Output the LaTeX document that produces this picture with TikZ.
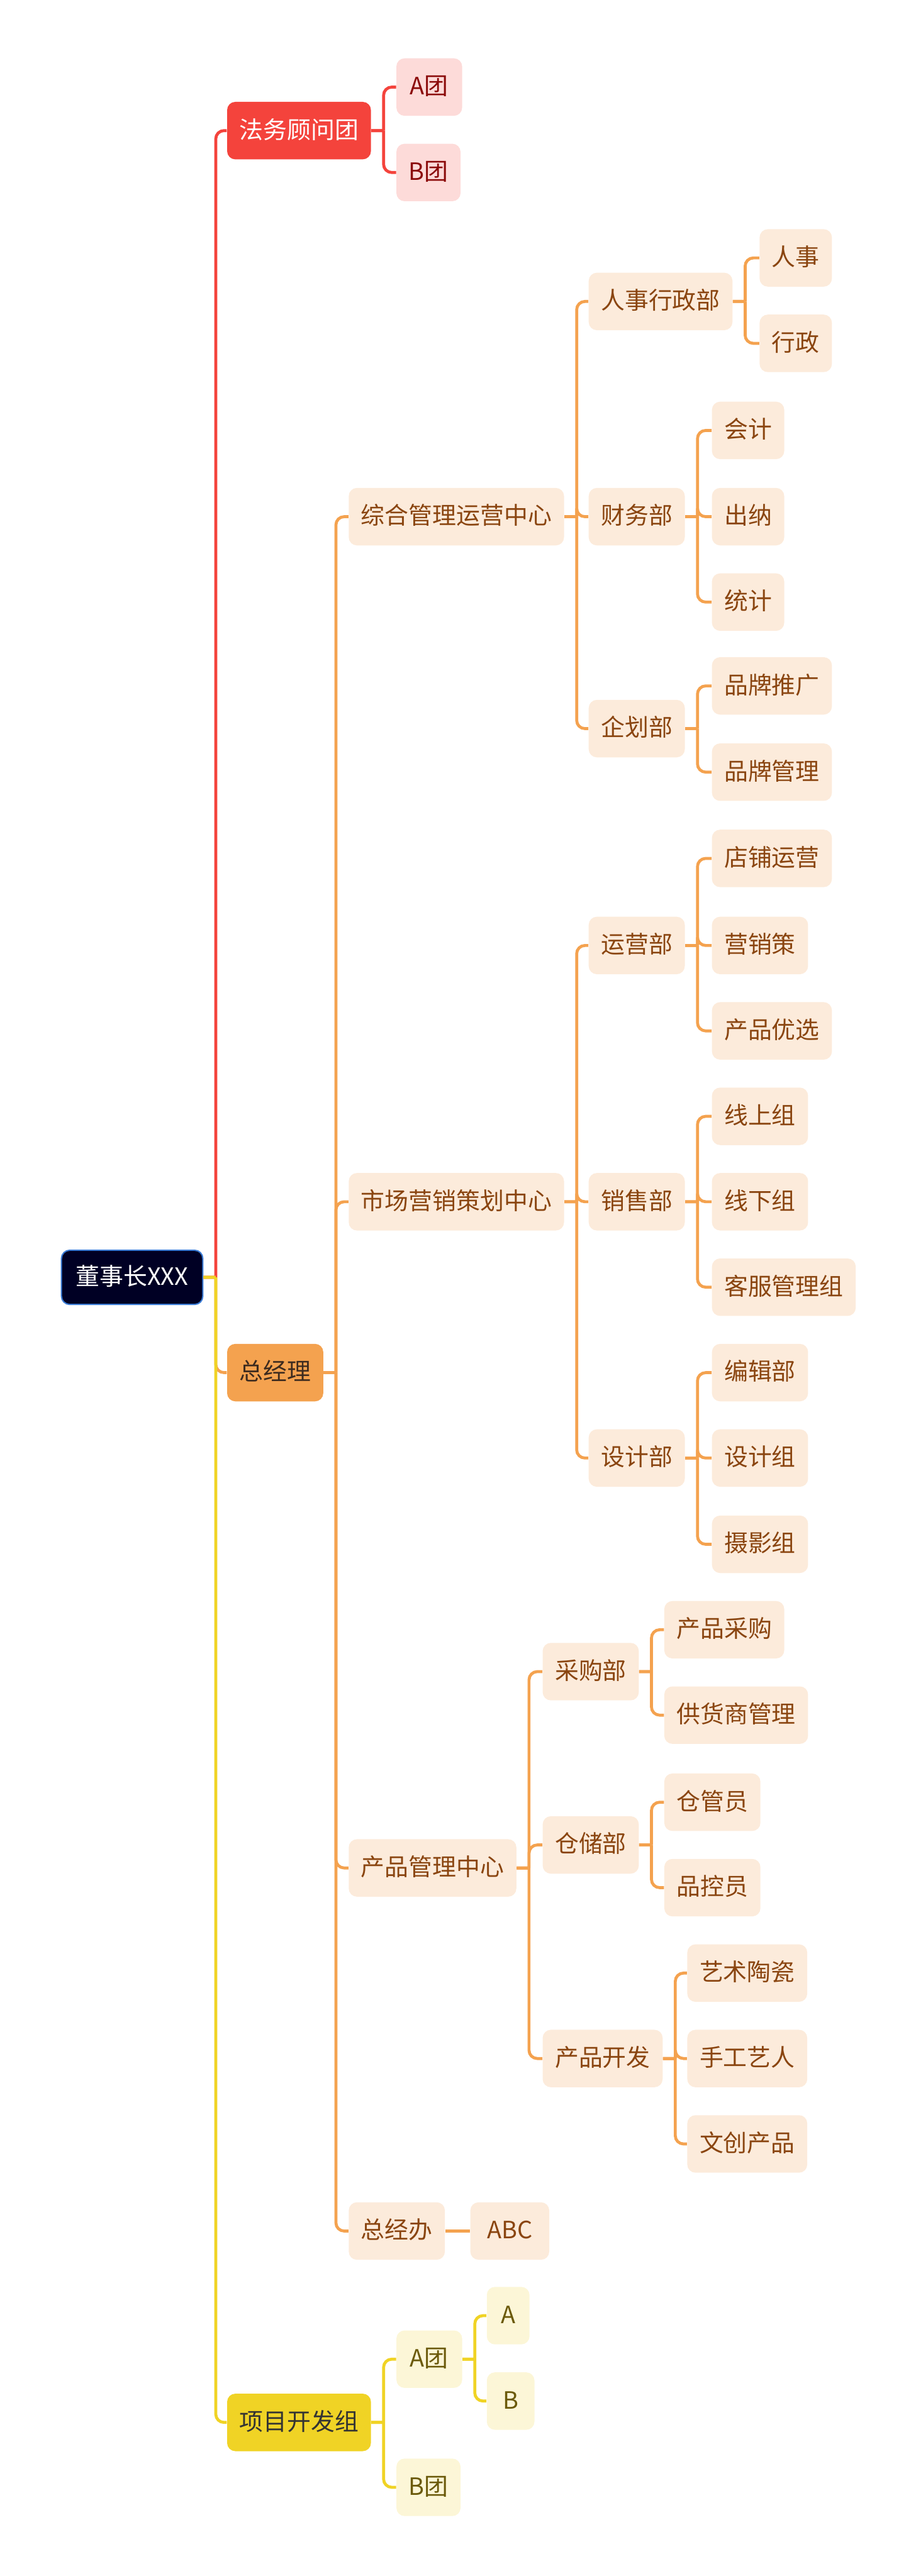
\documentclass[tikz,border=0pt]{standalone}
\usepackage{fontspec}
\setmainfont{Noto Sans CJK SC}
\definecolor{cRoot}{HTML}{000024}
\definecolor{cRootB}{HTML}{3A7BD5}
\definecolor{cRed}{HTML}{F4433C}
\definecolor{cPink}{HTML}{FDDBD9}
\definecolor{cPinkT}{HTML}{8B0A0A}
\definecolor{cOr}{HTML}{F4A24F}
\definecolor{cOrL}{HTML}{FCEBDB}
\definecolor{cBrown}{HTML}{8A4510}
\definecolor{cDark}{HTML}{3D2B1F}
\definecolor{cYe}{HTML}{F0D325}
\definecolor{cYeL}{HTML}{FCF6D7}
\definecolor{cOlive}{HTML}{6B5A0A}
\definecolor{cDark2}{HTML}{333333}
\newcommand\lk[3]{\draw[lnk,#1] (#2.east) -- ++(7.5,0) ++(0,0) |- (#3.west);}
\begin{document}
\begin{tikzpicture}[x=1pt,y=-1pt,
  box/.style={rounded corners=5pt, inner xsep=7.5pt, inner ysep=0pt, minimum height=35pt,
    anchor=west, text height=12pt, text depth=2.5pt, font=\fontsize{14.5}{17}\selectfont},
  rootbox/.style={box, minimum height=33pt, minimum width=86pt, fill=cRoot, draw=cRootB, line width=0.8pt, text=white},
  redA/.style={box, fill=cRed, text=white},
  redB/.style={box, fill=cPink, text=cPinkT},
  orA/.style={box, fill=cOr, text=cDark},
  orB/.style={box, fill=cOrL, text=cBrown},
  yeA/.style={box, fill=cYe, text=cDark2},
  yeB/.style={box, fill=cYeL, text=cOlive},
  lnk/.style={line width=1.8pt, rounded corners=5pt}]
\useasboundingbox (0,0) rectangle (557,1568);
% root and level 1
\node[rootbox] (root) at (37,777.5) {董事长XXX};
\node[redA] (fa) at (138,79.5) {法务顾问团};
\node[redB, minimum width=40pt] (faA) at (241,53) {A团};
\node[redB, minimum width=39pt] (faB) at (241,105) {B团};
\node[orA] (zjl) at (138,835.5) {总经理};
\node[yeA] (xm) at (138,1474.5) {项目开发组};
% 综合管理运营中心
\node[orB] (zh) at (212,314.5) {综合管理运营中心};
\node[orB] (rs) at (358,183.5) {人事行政部};
\node[orB] (rs1) at (462,157) {人事};
\node[orB] (rs2) at (462,209) {行政};
\node[orB] (cw) at (358,314.5) {财务部};
\node[orB] (cw1) at (433,262) {会计};
\node[orB] (cw2) at (433,314.5) {出纳};
\node[orB] (cw3) at (433,366.5) {统计};
\node[orB] (qh) at (358,443.5) {企划部};
\node[orB] (qh1) at (433,417.5) {品牌推广};
\node[orB] (qh2) at (433,470) {品牌管理};
% 市场营销策划中心
\node[orB] (sc) at (212,731.5) {市场营销策划中心};
\node[orB] (yy) at (358,575.5) {运营部};
\node[orB] (yy1) at (433,522.5) {店铺运营};
\node[orB] (yy2) at (433,575.5) {营销策};
\node[orB] (yy3) at (433,627.5) {产品优选};
\node[orB] (xs) at (358,731.5) {销售部};
\node[orB] (xs1) at (433,679.5) {线上组};
\node[orB] (xs2) at (433,731.5) {线下组};
\node[orB] (xs3) at (433,783.5) {客服管理组};
\node[orB] (sj) at (358,887.5) {设计部};
\node[orB] (sj1) at (433,835.5) {编辑部};
\node[orB] (sj2) at (433,887.5) {设计组};
\node[orB] (sj3) at (433,940) {摄影组};
% 产品管理中心
\node[orB] (cp) at (212,1137) {产品管理中心};
\node[orB] (cg) at (330,1017.5) {采购部};
\node[orB] (cg1) at (404,992) {产品采购};
\node[orB] (cg2) at (404,1044) {供货商管理};
\node[orB] (cc) at (330,1123) {仓储部};
\node[orB] (cc1) at (404,1097) {仓管员};
\node[orB] (cc2) at (404,1149) {品控员};
\node[orB] (kf) at (330,1253) {产品开发};
\node[orB] (kf1) at (418,1201) {艺术陶瓷};
\node[orB] (kf2) at (418,1253) {手工艺人};
\node[orB] (kf3) at (418,1305) {文创产品};
% 总经办
\node[orB] (zjb) at (212,1358) {总经办};
\node[orB, minimum width=48pt] (abc) at (286,1358) {ABC};
% 项目开发组
\node[yeB, minimum width=40pt] (xmA) at (241,1436) {A团};
\node[yeB, minimum width=26pt] (xmA1) at (296,1409.5) {A};
\node[yeB, minimum width=29pt] (xmA2) at (296,1461.5) {B};
\node[yeB, minimum width=39pt] (xmB) at (241,1514) {B团};
% connectors
\lk{cRed}{root}{fa}
\lk{cOr}{root}{zjl}
\lk{cYe}{root}{xm}
\lk{cRed}{fa}{faA}
\lk{cRed}{fa}{faB}
\foreach \c in {zh,sc,cp,zjb}{\lk{cOr}{zjl}{\c}}
\foreach \c in {rs,cw,qh}{\lk{cOr}{zh}{\c}}
\foreach \c in {rs1,rs2}{\lk{cOr}{rs}{\c}}
\foreach \c in {cw1,cw2,cw3}{\lk{cOr}{cw}{\c}}
\foreach \c in {qh1,qh2}{\lk{cOr}{qh}{\c}}
\foreach \c in {yy,xs,sj}{\lk{cOr}{sc}{\c}}
\foreach \c in {yy1,yy2,yy3}{\lk{cOr}{yy}{\c}}
\foreach \c in {xs1,xs2,xs3}{\lk{cOr}{xs}{\c}}
\foreach \c in {sj1,sj2,sj3}{\lk{cOr}{sj}{\c}}
\foreach \c in {cg,cc,kf}{\lk{cOr}{cp}{\c}}
\foreach \c in {cg1,cg2}{\lk{cOr}{cg}{\c}}
\foreach \c in {cc1,cc2}{\lk{cOr}{cc}{\c}}
\foreach \c in {kf1,kf2,kf3}{\lk{cOr}{kf}{\c}}
\draw[lnk,cOr] (zjb.east) -- (abc.west);
\foreach \c in {xmA,xmB}{\lk{cYe}{xm}{\c}}
\foreach \c in {xmA1,xmA2}{\lk{cYe}{xmA}{\c}}
\end{tikzpicture}
\end{document}
